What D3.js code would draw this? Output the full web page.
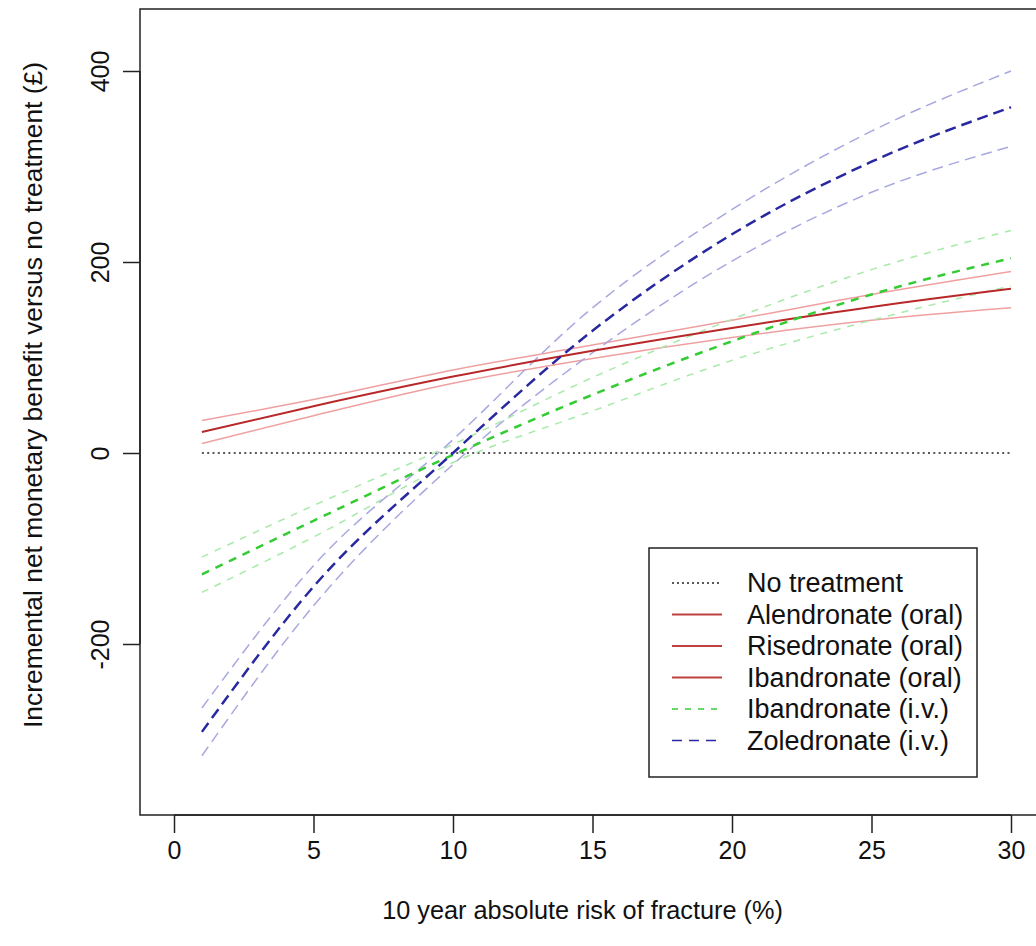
<!DOCTYPE html>
<html><head><meta charset="utf-8">
<script src="https://cdn.jsdelivr.net/npm/d3@7"></script>
<style>body{margin:0;background:#fff;} svg{display:block;font-family:"Liberation Sans",Arial,sans-serif;}</style>
</head><body>
<svg id="c" width="1036" height="946"></svg>
<script>
// ---- data ----
const riskX = [1, 5, 10, 15, 20, 25, 30];
const oralMid   = [22, 49, 80, 107, 131, 153, 172];
const oralHigh  = [34, 56, 87, 113, 139, 166, 190];
const oralLow   = [10, 39, 73, 99, 121, 139, 152];
const ibanIvMid  = [-127, -71, -2, 61, 117, 166, 204];
const ibanIvHigh = [-109, -55, 9, 79, 140, 192, 233];
const ibanIvLow  = [-146, -88, -10, 44, 97, 139, 175];
const zolMid  = [-292, -140, 0, 128, 229, 305, 362];
const zolHigh = [-267, -118, 14, 152, 255, 337, 400];
const zolLow  = [-317, -160, -12, 105, 201, 273, 321];
const noTreat = [0, 0, 0, 0, 0, 0, 0];
const xTicks = [0, 5, 10, 15, 20, 25, 30];
const yTicks = [-200, 0, 200, 400];
const legendLabels = ["No treatment", "Alendronate (oral)", "Risedronate (oral)", "Ibandronate (oral)", "Ibandronate (i.v.)", "Zoledronate (i.v.)"];

// ---- layout ----
const svg = d3.select("#c");
const box = {left: 140, top: 9, right: 1045, bottom: 815};
const x = d3.scaleLinear().domain([0, 30]).range([174, 1011]);
const y = d3.scaleLinear().domain([-200, 400]).range([644, 71]);

svg.append("defs").append("clipPath").attr("id", "clip")
  .append("rect").attr("x", box.left).attr("y", box.top)
  .attr("width", box.right - box.left).attr("height", box.bottom - box.top);

const g = svg.append("g").attr("clip-path", "url(#clip)");
const line = d3.line().x(d => x(d[0])).y(d => y(d[1])).curve(d3.curveMonotoneX);
function draw(vals, color, width, dash) {
  g.append("path").datum(riskX.map((v, i) => [v, vals[i]]))
    .attr("d", line).attr("fill", "none").attr("stroke", color)
    .attr("stroke-width", width).attr("stroke-dasharray", dash || null);
}
// zero line
g.append("path").datum(riskX.map((v, i) => [v, noTreat[i]]))
  .attr("d", d3.line().x(d => x(d[0])).y(d => y(d[1])))
  .attr("fill", "none").attr("stroke", "#222").attr("stroke-width", 1.5).attr("stroke-dasharray", "2,3.3");

// bands
draw(oralHigh, "#f0a0a0", 1.5);
draw(oralLow, "#f0a0a0", 1.5);
draw(ibanIvHigh, "#a8eaa8", 1.5, "7,7");
draw(ibanIvLow, "#a8eaa8", 1.5, "7,7");
draw(zolHigh, "#a8a8e0", 1.5, "11,6");
draw(zolLow, "#a8a8e0", 1.5, "11,6");
// centres
draw(oralMid, "#b82828", 2);
draw(ibanIvMid, "#33cc33", 2.5, "8,7");
draw(zolMid, "#2828a0", 2.5, "11,6");

// box
svg.append("path")
  .attr("d", `M${box.right},${box.top}H${box.left}V${box.bottom}H${box.right}`)
  .attr("fill", "none").attr("stroke", "#222").attr("stroke-width", 1.5);

const fmt = d => String(d);
// axes
const xAxis = d3.axisBottom(x).tickValues(xTicks).tickSize(18).tickPadding(8).tickFormat(fmt);
const xa = svg.append("g").attr("transform", `translate(0,${box.bottom})`).call(xAxis);
xa.select(".domain").attr("d", `M${x(0)},0H${x(30)}`);
xa.selectAll("line").attr("stroke", "#222").attr("stroke-width", 1.5);
xa.select(".domain").attr("stroke", "#222").attr("stroke-width", 1.5);
xa.selectAll("text").attr("font-size", 25).attr("fill", "#111").attr("font-family", "Liberation Sans, Arial, sans-serif");

const yAxis = d3.axisLeft(y).tickValues(yTicks).tickSize(17).tickPadding(0).tickFormat(fmt);
const ya = svg.append("g").attr("transform", `translate(${box.left},0)`).call(yAxis);
ya.select(".domain").attr("d", `M0,${y(-200)}V${y(400)}`);
ya.selectAll("line").attr("stroke", "#222").attr("stroke-width", 1.5);
ya.select(".domain").attr("stroke", "#222").attr("stroke-width", 1.5);
ya.selectAll("text").attr("font-size", 25).attr("fill", "#111").attr("font-family", "Liberation Sans, Arial, sans-serif")
  .attr("text-anchor", "middle").attr("dy", null).attr("x", null)
  .attr("transform", "translate(-40,0) rotate(-90)").attr("dominant-baseline", "central");

// axis titles
svg.append("text").attr("x", x(15) - 10).attr("y", 919).attr("text-anchor", "middle")
  .attr("font-size", 25.3).attr("fill", "#111").text("10 year absolute risk of fracture (%)");
svg.append("text").attr("transform", `translate(42,${(box.top + box.bottom) / 2 - 17}) rotate(-90)`)
  .attr("text-anchor", "middle").attr("font-size", 26.4).attr("fill", "#111")
  .text("Incremental net monetary benefit versus no treatment (£)");

// legend
const lg = svg.append("g");
lg.append("rect").attr("x", 649).attr("y", 548).attr("width", 328).attr("height", 229)
  .attr("fill", "#fff").attr("stroke", "#222").attr("stroke-width", 1.5);
const legStyles = [
  {c: "#222", w: 1.5, d: "2,3"},
  {c: "#c04040", w: 2, d: null},
  {c: "#c04040", w: 2, d: null},
  {c: "#c04040", w: 2, d: null},
  {c: "#33cc33", w: 1.5, d: "6,7"},
  {c: "#2828a0", w: 1.5, d: "10,7"}
];
legendLabels.forEach((lab, i) => {
  const yy = 583 + i * 31.5;
  lg.append("line").attr("x1", 672).attr("x2", 722).attr("y1", yy).attr("y2", yy)
    .attr("stroke", legStyles[i].c).attr("stroke-width", legStyles[i].w)
    .attr("stroke-dasharray", legStyles[i].d);
  lg.append("text").attr("x", 747).attr("y", yy).attr("dominant-baseline", "central")
    .attr("font-size", 27).attr("fill", "#111").text(lab);
});
</script>
</body></html>
